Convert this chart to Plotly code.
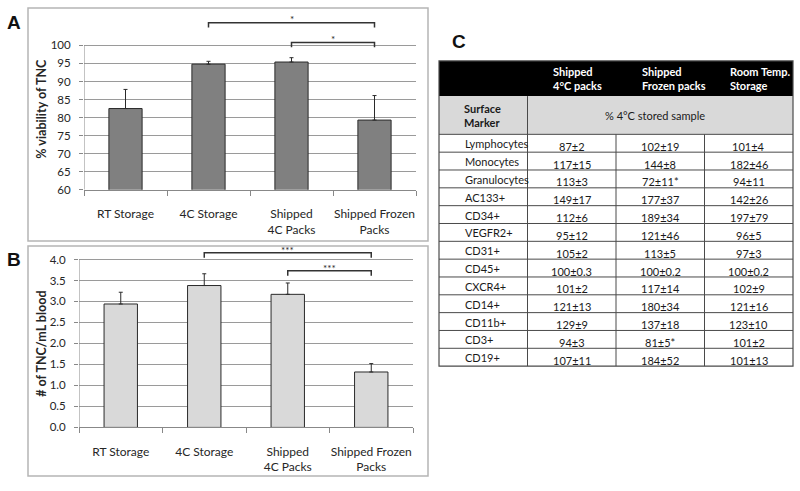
import plotly.graph_objects as go

W, H = 800, 491

# ---------------------------------------------------------------
# Data
categories = ["RT Storage", "4C Storage", "Shipped<br>4C Packs", "Shipped Frozen<br>Packs"]
viability = [82.5, 94.8, 95.4, 79.3]
viability_err = [5.3, 0.8, 1.2, 6.8]
tnc_per_ml = [2.94, 3.38, 3.17, 1.32]
tnc_per_ml_err = [0.28, 0.28, 0.27, 0.20]

# significance brackets: (from bar, to bar, label)
sig_a = [(1, 3, "*"), (2, 3, "*")]
sig_b = [(1, 3, "***"), (2, 3, "***")]

table_cols = ["Shipped<br>4°C packs", "Shipped<br>Frozen packs", "Room Temp.<br>Storage"]
markers = ["Lymphocytes", "Monocytes", "Granulocytes", "AC133+", "CD34+", "VEGFR2+",
           "CD31+", "CD45+", "CXCR4+", "CD14+", "CD11b+", "CD3+", "CD19+"]
shipped_4c = ["87±2", "117±15", "113±3", "149±17", "112±6", "95±12", "105±2",
              "100±0.3", "101±2", "121±13", "129±9", "94±3", "107±11"]
shipped_frozen = ["102±19", "144±8", "72±11*", "177±37", "189±34", "121±46", "113±5",
                  "100±0.2", "117±14", "180±34", "137±18", "81±5*", "184±52"]
room_temp = ["101±4", "182±46", "94±11", "142±26", "197±79", "96±5", "97±3",
             "100±0.2", "102±9", "121±16", "123±10", "101±2", "101±13"]

FONT = "Lato, Carlito, Calibri, sans-serif"
TXT = "#262626"
GRID = "#9a9a9a"


def px(x):
    return x / W


def py(y):
    return 1 - y / H


fig = go.Figure()

# ---------------------------------------------------------------
# Panel A / B bars
xs = list(range(len(categories)))
fig.add_trace(go.Bar(x=xs, y=viability, width=0.4,
                     marker=dict(color="#808080", line=dict(color="#2a2a2a", width=1)),
                     error_y=dict(type="data", symmetric=False, array=viability_err,
                                  arrayminus=[0] * 4, color="#2a2a2a", thickness=1, width=2),
                     xaxis="x", yaxis="y", showlegend=False))
fig.add_trace(go.Bar(x=xs, y=tnc_per_ml, width=0.4,
                     marker=dict(color="#d9d9d9", line=dict(color="#2a2a2a", width=1)),
                     error_y=dict(type="data", symmetric=False, array=tnc_per_ml_err,
                                  arrayminus=[0] * 4, color="#2a2a2a", thickness=1, width=2),
                     xaxis="x2", yaxis="y2", showlegend=False))


def add_brackets(pairs, levels, drop, xa, ya, star_off):
    for (a, b, lab), lev in zip(pairs, levels):
        fig.add_trace(go.Scatter(x=[a, a, b, b], y=[lev - drop, lev, lev, lev - drop],
                                 mode="lines", line=dict(color="#333333", width=1.5),
                                 xaxis=xa, yaxis=ya, showlegend=False, hoverinfo="skip"))
        fig.add_annotation(x=(a + b) / 2, y=lev + star_off, text=lab, showarrow=False,
                           xref=xa, yref=ya, xanchor="center", yanchor="middle",
                           font=dict(size=10, color=TXT, family=FONT))


add_brackets(sig_a, [106.3, 100.8], 1.3, "x", "y", 0.9)
add_brackets(sig_b, [4.16, 3.73], 0.12, "x2", "y2", 0.06)

ytick_font = dict(tickfont=dict(family=FONT, size=11.5, color=TXT))
xtick_font = dict(tickfont=dict(family=FONT, size=12, color=TXT))
minor_ticks = dict(tickvals=[-0.5, 0.5, 1.5, 2.5, 3.5], ticks="outside", ticklen=5,
                   tickcolor="#888888", showgrid=False)
fig.update_layout(
    xaxis=dict(domain=[px(84), px(416)], range=[-0.5, 3.5], tickvals=xs, ticktext=categories,
               showline=True, linecolor="#888888", linewidth=1, ticks="", ticklabelstandoff=13,
               minor=minor_ticks, zeroline=False, showgrid=False, anchor="y", **xtick_font),
    yaxis=dict(domain=[py(192), py(192 - 50 * 3.65)], range=[60, 110],
               tickvals=list(range(60, 101, 5)), showgrid=True, gridcolor=GRID, gridwidth=1,
               ticks="outside", ticklen=4, tickcolor="#888888", ticklabelstandoff=6,
               zeroline=False, showline=False, anchor="x", **ytick_font),
    xaxis2=dict(domain=[px(79), px(413)], range=[-0.5, 3.5], tickvals=xs, ticktext=categories,
                showline=True, linecolor="#888888", linewidth=1, ticks="", ticklabelstandoff=13,
                minor=minor_ticks, zeroline=False, showgrid=False, anchor="y2", **xtick_font),
    yaxis2=dict(domain=[py(432.7), py(432.7 - 4.4 * 42.5)], range=[0, 4.4],
                tickvals=[i * 0.5 for i in range(9)], tickformat=".1f",
                showgrid=True, gridcolor=GRID, gridwidth=1,
                ticks="outside", ticklen=4, tickcolor="#888888", ticklabelstandoff=6,
                zeroline=False, showline=False, anchor="x2", **ytick_font),
)

# y axis lines only over the tick span
fig.add_shape(type="line", xref="x", yref="y", x0=-0.5, x1=-0.5, y0=60, y1=100,
              line=dict(color="#888888", width=1))
fig.add_shape(type="line", xref="x2", yref="y2", x0=-0.5, x1=-0.5, y0=0, y1=4,
              line=dict(color="#888888", width=1))

centered = dict(xref="paper", yref="paper", xanchor="center", yanchor="middle", showarrow=False)

# axis titles
fig.add_annotation(x=px(42), y=py(110), text="<b>% viability of TNC</b>", textangle=-90,
                   font=dict(family=FONT, size=12.5, color=TXT), **centered)
fig.add_annotation(x=px(42), y=py(348), text="<b># of TNC/mL blood</b>", textangle=-90,
                   font=dict(family=FONT, size=12.5, color=TXT), **centered)

# panel frames
for y0, y1 in [(8, 244), (249, 482)]:
    fig.add_shape(type="rect", xref="paper", yref="paper", x0=px(28), x1=px(428),
                  y0=py(y1), y1=py(y0), line=dict(color="#b5b5b5", width=1.5))

# panel letters
for lab, x, y in [("A", 14, 23), ("B", 14, 263), ("C", 459, 42)]:
    fig.add_annotation(x=px(x), y=py(y), text="<b>%s</b>" % lab,
                       font=dict(family="Liberation Sans, Arial", size=19, color="#111111"), **centered)

# ---------------------------------------------------------------
# Panel C table, drawn on its own axes (x: columns, y: pixels down from top)
HEAD_H = 35.6
SUB_H = 38.7
ROW_H = 18.05
TBL_H = HEAD_H + SUB_H + ROW_H * len(markers)
TBL_TOP = 61.7
COL_PX = 88.5
PAD = 0.05

fig.update_layout(
    xaxis3=dict(domain=[px(439 - PAD * COL_PX), px(439 + (4 + PAD) * COL_PX)], range=[-PAD, 4 + PAD],
                visible=False, anchor="y3", fixedrange=True),
    yaxis3=dict(domain=[py(TBL_TOP + TBL_H + 1), py(TBL_TOP - 1)], range=[TBL_H + 1, -1],
                visible=False, anchor="x3", fixedrange=True),
)

line_c = "#4a4a4a"
tshape = dict(xref="x3", yref="y3")
fig.add_shape(type="rect", x0=0, x1=4, y0=0, y1=HEAD_H, fillcolor="black",
              line=dict(width=0), **tshape)
fig.add_shape(type="rect", x0=0, x1=4, y0=HEAD_H, y1=HEAD_H + SUB_H, fillcolor="#d9d9d9",
              line=dict(width=0), **tshape)
data_top = HEAD_H + SUB_H
for i in range(len(markers)):
    yl = data_top + i * ROW_H
    fig.add_shape(type="line", x0=0, x1=4, y0=yl, y1=yl, line=dict(color=line_c, width=1), **tshape)
fig.add_shape(type="line", x0=1, x1=1, y0=HEAD_H, y1=TBL_H, line=dict(color=line_c, width=1), **tshape)
for xc in [2, 3]:
    fig.add_shape(type="line", x0=xc, x1=xc, y0=data_top, y1=TBL_H,
                  line=dict(color=line_c, width=1), **tshape)
fig.add_shape(type="rect", x0=0, x1=4, y0=0, y1=TBL_H, line=dict(color=line_c, width=1.2), **tshape)

tfont = dict(family=FONT, size=11, color="#1a1a1a")
tcell = dict(xref="x3", yref="y3", showarrow=False, yanchor="middle")
for j, col in enumerate(table_cols):
    fig.add_annotation(x=j + 1 + 0.27, y=HEAD_H / 2, text="<b>%s</b>" % col,
                       xanchor="left", align="left",
                       font=dict(family=FONT, size=11, color="white"), **tcell)
fig.add_annotation(x=0.26, y=HEAD_H + SUB_H / 2, text="<b>Surface<br>Marker</b>",
                   xanchor="left", align="left", font=tfont, **tcell)
fig.add_annotation(x=2.44, y=HEAD_H + SUB_H / 2, text="% 4°C stored sample",
                   xanchor="center", font=tfont, **tcell)

for i, m in enumerate(markers):
    yc = data_top + (i + 0.5) * ROW_H
    fig.add_annotation(x=0.27, y=yc + 0.5, text=m, xanchor="left", align="left", font=tfont, **tcell)
    for j, col_vals in enumerate([shipped_4c, shipped_frozen, room_temp]):
        fig.add_annotation(x=j + 1.5, y=yc + 3, text=col_vals[i], xanchor="center",
                           font=tfont, **tcell)

fig.update_layout(width=W, height=H, margin=dict(l=0, r=0, t=0, b=0),
                  paper_bgcolor="white", plot_bgcolor="white", bargap=0.6,
                  font=dict(family=FONT, color=TXT))

fig.write_html("out.html", config={"displayModeBar": False},
               post_script="document.body.style.margin='0px';")
